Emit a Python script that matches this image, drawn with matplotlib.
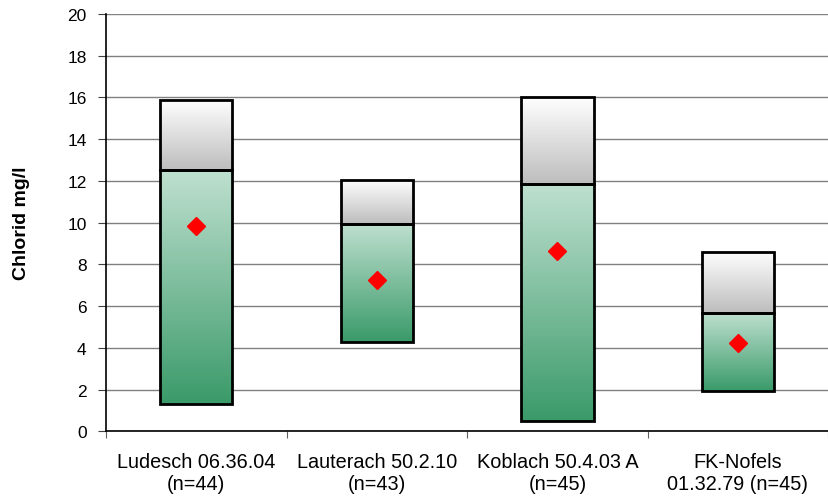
import numpy as np
import matplotlib
matplotlib.use('Agg')
import matplotlib.pyplot as plt
from matplotlib.colors import LinearSegmentedColormap

# data
categories = ['Ludesch 06.36.04\n(n=44)', 'Lauterach 50.2.10\n(n=43)',
              'Koblach 50.4.03 A\n(n=45)', 'FK-Nofels\n01.32.79 (n=45)']
low    = [1.3, 4.27, 0.48, 1.92]
middle = [12.5, 9.93, 11.85, 5.66]
high   = [15.9, 12.04, 16.0, 8.59]
mean   = [9.83, 7.24, 8.63, 4.22]

plt.rcParams['font.family'] = ['Liberation Sans', 'DejaVu Sans']

fig = plt.figure(figsize=(8.29, 5.02), dpi=100)
ax = fig.add_axes([0.128, 0.139, 0.871, 0.831])

green = LinearSegmentedColormap.from_list('g', ['#3a9a69', '#bfe0d0'])
grey = LinearSegmentedColormap.from_list('w', ['#bdbdbd', '#ffffff'])
grad = np.linspace(0, 1, 256).reshape(-1, 1)

x = np.arange(len(categories))
w = 0.4

ax.set_xlim(-0.5, len(categories) - 0.5)
ax.set_ylim(0, 20)

for i in range(len(categories)):
    # lower (green) box
    b1 = ax.bar(x[i], middle[i] - low[i], w, bottom=low[i], color='none',
                edgecolor='black', linewidth=2, zorder=3)[0]
    im = ax.imshow(grad, cmap=green, origin='lower', aspect='auto',
                   extent=[x[i] - w / 2, x[i] + w / 2, low[i], middle[i]], zorder=2)
    im.set_clip_path(b1)
    # upper (grey) box
    b2 = ax.bar(x[i], high[i] - middle[i], w, bottom=middle[i], color='none',
                edgecolor='black', linewidth=2, zorder=3)[0]
    im = ax.imshow(grad, cmap=grey, origin='lower', aspect='auto',
                   extent=[x[i] - w / 2, x[i] + w / 2, middle[i], high[i]], zorder=2)
    im.set_clip_path(b2)

ax.plot(x, mean, 'D', color='red', markersize=9, linestyle='none', zorder=4)

ax.set_xlim(-0.5, len(categories) - 0.5)
ax.set_ylim(0, 20)
ax.set_yticks(np.arange(0, 21, 2))
ax.set_xticks(np.arange(len(categories) + 1) - 0.5, minor=False)
ax.set_xticklabels([])
ax.set_xticks(x, minor=True)
ax.set_xticklabels(categories, minor=True, fontsize=14.3, linespacing=1.2)
ax.tick_params(axis='x', which='minor', length=0, pad=15)
ax.tick_params(axis='x', which='major', length=5, direction='out', color='#606060')
ax.tick_params(axis='y', labelsize=12.5, length=6, direction='out', color='#404040', pad=8)
ax.yaxis.grid(True, color='#808080', linewidth=1)
ax.set_axisbelow(True)
for s in ['top', 'right']:
    ax.spines[s].set_visible(False)
ax.spines['left'].set_linewidth(1.2)
ax.spines['bottom'].set_linewidth(1.2)
ax.set_ylabel('Chlorid mg/l', fontsize=14, fontweight='bold', labelpad=27)

fig.savefig('out.png', dpi=100)
